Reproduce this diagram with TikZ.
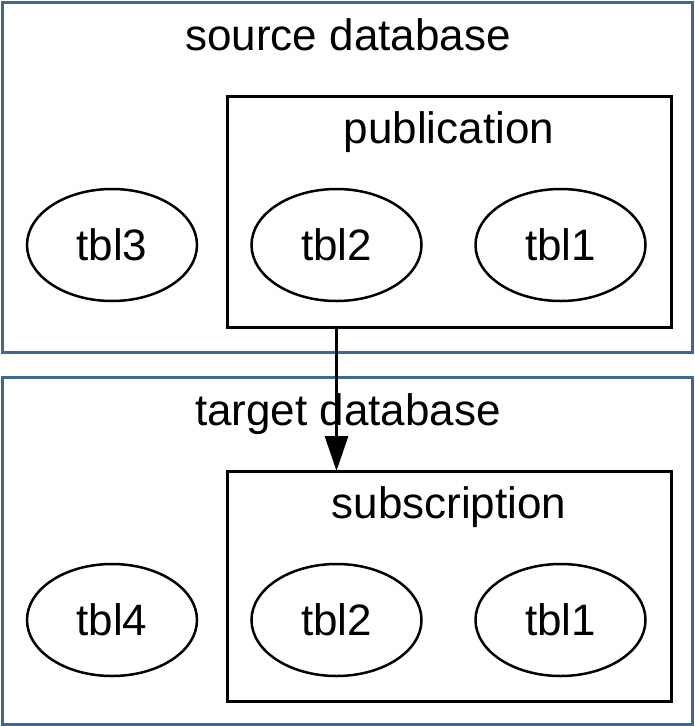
\documentclass[tikz,border=0pt]{standalone}
\usepackage{fontspec}
\setmainfont{Liberation Sans}
\usepackage{tikz}
\usetikzlibrary{arrows.meta,shapes,positioning,calc}
\usepackage{xcolor}
\definecolor{dbblue}{RGB}{62,104,148}
\tikzstyle{dbbox} = [draw=dbblue, line width=3pt, rectangle, inner sep=0pt, outer sep=0pt]
\tikzstyle{setbox} = [draw=black, line width=3pt, rectangle, inner sep=0pt, outer sep=0pt, minimum width=444pt]
\tikzstyle{tbl} = [draw=black, line width=2.5pt, ellipse, inner sep=0pt, minimum width=170pt, minimum height=112pt, font=\fontsize{44}{52}\selectfont]
\tikzstyle{title} = [anchor=base, inner sep=0pt, font=\fontsize{44}{52}\selectfont]
\tikzstyle{arrow} = [line width=3pt, -{Triangle[length=35pt,width=23pt]}]

\begin{document}
\begin{tikzpicture}[x=1pt, y=-1pt]
    \useasboundingbox (0,0) rectangle (695,726);

    % Databases
    \node[dbbox, minimum width=690pt, minimum height=350pt] (srcdb) at (347,177) {};
    \node[dbbox, minimum width=690pt, minimum height=347pt] (tgtdb) at (347,550.5) {};
    \node[title] (srctitle) at (348,50) {source database};
    \node[title] (tgttitle) at (348,425) {target database};

    % Publication and subscription
    \node[setbox, minimum height=231pt] (pub) at (449,211.5) {};
    \node[setbox, minimum height=230pt] (sub) at (449,586) {};
    \node[title] (pubtitle) at (449,143) {publication};
    \node[title] (subtitle) at (449,518) {subscription};

    % Tables
    \node[tbl] (srctblc) at (112,245) {tbl3};
    \node[tbl] (srctblb) at (336.5,245) {tbl2};
    \node[tbl] (srctbla) at (560.5,245) {tbl1};
    \node[tbl] (tgttbld) at (112,620) {tbl4};
    \node[tbl] (tgttblb) at (336.5,620) {tbl2};
    \node[tbl] (tgttbla) at (560.5,620) {tbl1};

    % Replication
    \draw[arrow] (srctblb |- pub.south) -- (srctblb |- sub.north);
\end{tikzpicture}
\end{document}
